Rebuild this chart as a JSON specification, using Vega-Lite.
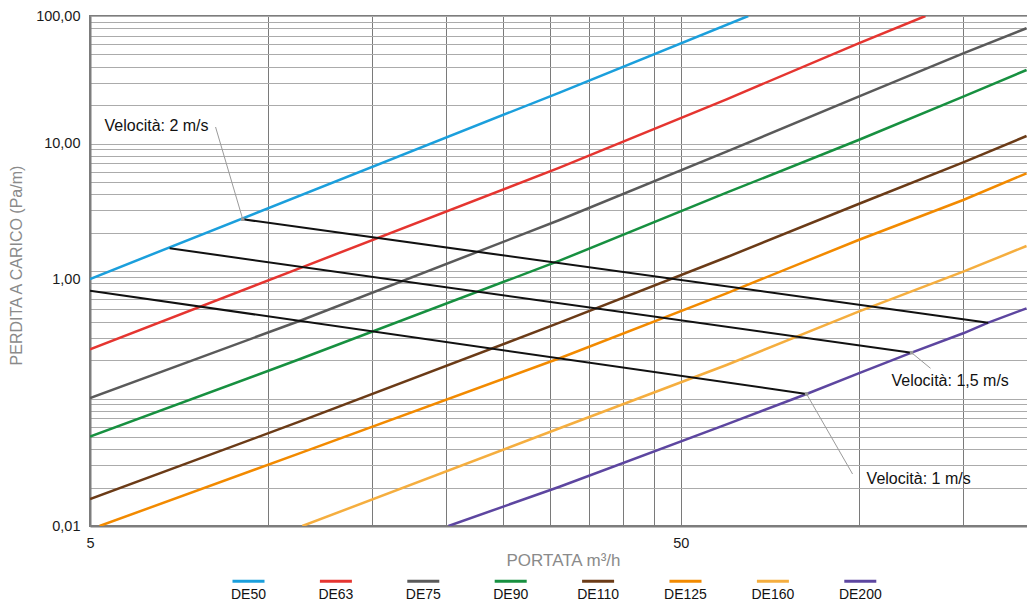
{
  "$schema": "https://vega.github.io/schema/vega-lite/v6.json",
  "width": 938,
  "height": 510,
  "autosize": {"type": "none"},
  "padding": {"left": 90, "top": 16, "right": 0, "bottom": 76},
  "background": "white",
  "config": {
    "view": {"stroke": "#7d7d7d", "strokeWidth": 2},
    "font": "Liberation Sans",
    "axis": {
      "ticks": false,
      "tickSize": 0,
      "grid": true,
      "domainColor": "#7d7d7d",
      "domainWidth": 2,
      "labelFont": "Liberation Sans",
      "labelFontSize": 14.5,
      "labelColor": "#1a1a1a",
      "labelFlush": false,
      "labelOverlap": false,
      "titleFont": "Liberation Sans",
      "titleFontWeight": "normal",
      "titleColor": "#8a8a8a"
    },
    "legend": {
      "orient": "none",
      "legendX": 141,
      "legendY": 554,
      "direction": "horizontal",
      "columns": 8,
      "padding": 0,
      "symbolType": "M-1,-0.4L1,-0.4",
      "symbolSize": 1024,
      "symbolStrokeWidth": 3,
      "labelAlign": "center",
      "labelBaseline": "top",
      "labelOffset": -17.5,
      "labelFont": "Liberation Sans",
      "labelFontSize": 14,
      "labelColor": "#111111",
      "columnPadding": 42.4
    }
  },
  "datasets": {
    "series": [
      {"name": "DE50", "q": 5, "dp": 0.8656},
      {"name": "DE50", "q": 31.18, "dp": 25.1},
      {"name": "DE50", "q": 65.06, "dp": 100},
      {"name": "DE63", "q": 5, "dp": 0.2431},
      {"name": "DE63", "q": 11.31, "dp": 1.05},
      {"name": "DE63", "q": 31.18, "dp": 6.459},
      {"name": "DE63", "q": 59.78, "dp": 22.22},
      {"name": "DE63", "q": 100, "dp": 61.07},
      {"name": "DE63", "q": 129.8, "dp": 100},
      {"name": "DE75", "q": 5, "dp": 0.1009},
      {"name": "DE75", "q": 11.31, "dp": 0.4053},
      {"name": "DE75", "q": 31.18, "dp": 2.512},
      {"name": "DE75", "q": 59.78, "dp": 8.624},
      {"name": "DE75", "q": 100, "dp": 23.29},
      {"name": "DE75", "q": 150.4, "dp": 50.98},
      {"name": "DE75", "q": 192.5, "dp": 80.1},
      {"name": "DE90", "q": 5, "dp": 0.05017},
      {"name": "DE90", "q": 11.31, "dp": 0.203},
      {"name": "DE90", "q": 31.18, "dp": 1.205},
      {"name": "DE90", "q": 59.78, "dp": 4.113},
      {"name": "DE90", "q": 100, "dp": 10.65},
      {"name": "DE90", "q": 150.4, "dp": 23.29},
      {"name": "DE90", "q": 192.5, "dp": 37.71},
      {"name": "DE110", "q": 5, "dp": 0.01628},
      {"name": "DE110", "q": 11.31, "dp": 0.06577},
      {"name": "DE110", "q": 31.18, "dp": 0.3931},
      {"name": "DE110", "q": 59.78, "dp": 1.281},
      {"name": "DE110", "q": 100, "dp": 3.354},
      {"name": "DE110", "q": 150.4, "dp": 7.12},
      {"name": "DE110", "q": 192.5, "dp": 11.45},
      {"name": "DE125", "q": 5.19, "dp": 0.01},
      {"name": "DE125", "q": 11.31, "dp": 0.03717},
      {"name": "DE125", "q": 31.18, "dp": 0.2067},
      {"name": "DE125", "q": 59.78, "dp": 0.6686},
      {"name": "DE125", "q": 100, "dp": 1.75},
      {"name": "DE125", "q": 150.4, "dp": 3.605},
      {"name": "DE125", "q": 192.5, "dp": 5.838},
      {"name": "DE160", "q": 11.44, "dp": 0.01},
      {"name": "DE160", "q": 31.18, "dp": 0.05839},
      {"name": "DE160", "q": 59.78, "dp": 0.1831},
      {"name": "DE160", "q": 100, "dp": 0.4795},
      {"name": "DE160", "q": 150.4, "dp": 0.9874},
      {"name": "DE160", "q": 192.5, "dp": 1.571},
      {"name": "DE200", "q": 20.22, "dp": 0.01},
      {"name": "DE200", "q": 31.18, "dp": 0.02033},
      {"name": "DE200", "q": 59.78, "dp": 0.06275},
      {"name": "DE200", "q": 81.66, "dp": 0.1085},
      {"name": "DE200", "q": 100, "dp": 0.1576},
      {"name": "DE200", "q": 122.96, "dp": 0.2287},
      {"name": "DE200", "q": 150.4, "dp": 0.3247},
      {"name": "DE200", "q": 165.8, "dp": 0.3931},
      {"name": "DE200", "q": 192.5, "dp": 0.5099}
    ],
    "velocity": [
      {"v": "2 m/s", "q": 9.07, "dp": 2.544},
      {"v": "2 m/s", "q": 165.8, "dp": 0.3931},
      {"v": "1,5 m/s", "q": 6.82, "dp": 1.507},
      {"v": "1,5 m/s", "q": 122.96, "dp": 0.2287},
      {"v": "1 m/s", "q": 5, "dp": 0.7006},
      {"v": "1 m/s", "q": 81.66, "dp": 0.1085}
    ],
    "leaders": [
      {"v": "2 m/s", "q": 8.157, "dp": 13.47},
      {"v": "2 m/s", "q": 9.07, "dp": 2.544},
      {"v": "1,5 m/s", "q": 122.96, "dp": 0.2287},
      {"v": "1,5 m/s", "q": 132.4, "dp": 0.1725},
      {"v": "1 m/s", "q": 81.66, "dp": 0.1085},
      {"v": "1 m/s", "q": 97.7, "dp": 0.02557}
    ],
    "dots": [
      {"q": 9.07, "dp": 2.544},
      {"q": 122.96, "dp": 0.2287},
      {"q": 81.66, "dp": 0.1085}
    ],
    "notes": [
      {"label": "Velocità: 2 m/s", "q": 5.291, "dp": 12.6},
      {"label": "Velocità: 1,5 m/s", "q": 113.7, "dp": 0.1253},
      {"label": "Velocità: 1 m/s", "q": 103.2, "dp": 0.02135}
    ]
  },
  "encoding": {
    "x": {
      "field": "q",
      "type": "quantitative",
      "scale": {"type": "log", "domain": [5, 193.6], "nice": false},
      "axis": {
        "title": "PORTATA m³/h",
        "titleFontSize": 17,
        "titleX": 473,
        "titleY": 26,
        "titleBaseline": "top",
        "values": [5, 10, 15, 20, 25, 30, 35, 40, 45, 50, 100, 150],
        "labelExpr": "datum.value == 5 ? '5' : (datum.value == 50 ? '50' : '')",
        "labelPadding": 10,
        "gridColor": "#7a7a7a",
        "gridWidth": 1
      }
    },
    "y": {
      "field": "dp",
      "type": "quantitative",
      "scale": {"type": "log", "domain": [0.01, 100], "nice": false},
      "axis": {
        "title": "PERDITA A CARICO (Pa/m)",
        "titleFontSize": 16,
        "titleX": -66,
        "titleY": 249,
        "values": [0.01, 0.02, 0.03, 0.04, 0.05, 0.06, 0.07, 0.08, 0.09, 0.1, 0.2, 0.3, 0.4, 0.5, 0.6, 0.7, 0.8, 0.9, 1, 2, 3, 4, 5, 6, 7, 8, 9, 10, 20, 30, 40, 50, 60, 70, 80, 90, 100],
        "labelExpr": "datum.value == 100 ? '100,00' : (datum.value == 10 ? '10,00' : (datum.value == 1 ? '1,00' : (datum.value == 0.01 ? '0,01' : '')))",
        "labelOffset": {"condition": {"test": "datum.value == 1", "value": 8}, "value": 0},
        "labelPadding": 10,
        "gridColor": "#ababab",
        "gridWidth": 1
      }
    }
  },
  "layer": [
    {
      "data": {"name": "series"},
      "mark": {"type": "line", "strokeWidth": 2.5, "clip": true},
      "encoding": {
        "color": {
          "field": "name",
          "type": "nominal",
          "scale": {
            "domain": ["DE50", "DE63", "DE75", "DE90", "DE110", "DE125", "DE160", "DE200"],
            "range": ["#1b9fdc", "#e53530", "#5a5a5a", "#179040", "#6b3b17", "#f28a00", "#f5ae3f", "#5d46a0"]
          },
          "legend": {"title": null}
        }
      }
    },
    {
      "data": {"name": "velocity"},
      "mark": {"type": "line", "strokeWidth": 2, "color": "#111111", "clip": true},
      "encoding": {"detail": {"field": "v", "type": "nominal"}}
    },
    {
      "data": {"name": "leaders"},
      "mark": {"type": "line", "strokeWidth": 1, "color": "#9a9a9a", "clip": true},
      "encoding": {"detail": {"field": "v", "type": "nominal"}}
    },
    {
      "data": {"name": "dots"},
      "mark": {"type": "square", "size": 12, "color": "#999999", "opacity": 1}
    },
    {
      "data": {"name": "notes"},
      "mark": {"type": "text", "align": "left", "baseline": "alphabetic", "font": "Liberation Sans", "fontSize": 16, "color": "#111111"},
      "encoding": {"text": {"field": "label", "type": "nominal"}}
    }
  ]
}
